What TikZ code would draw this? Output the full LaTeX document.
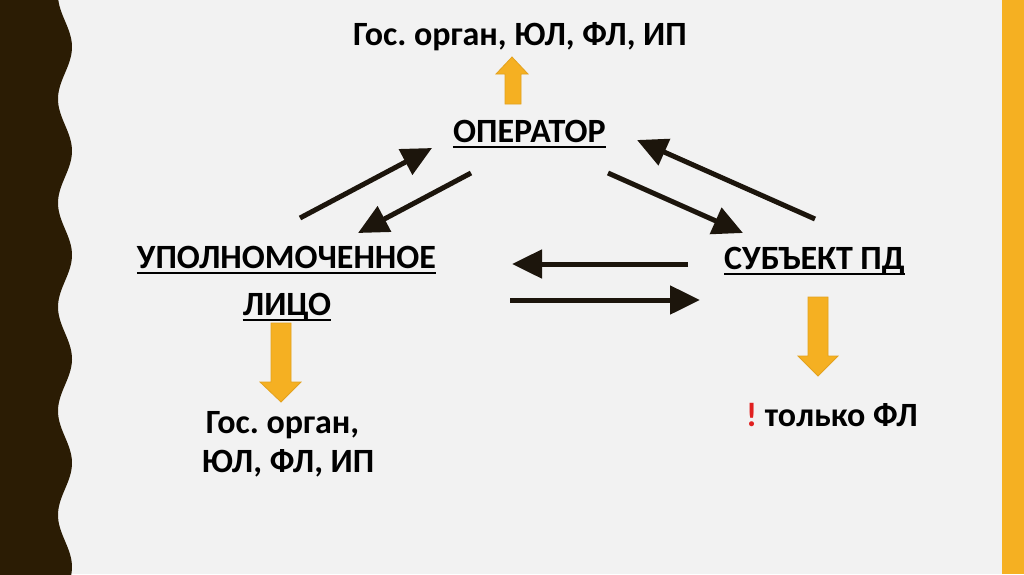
\documentclass[tikz,border=0pt]{standalone}
\usepackage{fontspec}
\setmainfont{Carlito}
\frenchspacing
\usetikzlibrary{arrows.meta}
\definecolor{bg}{HTML}{F2F2F2}
\definecolor{band}{HTML}{2B1C04}
\definecolor{gold}{HTML}{F5B022}
\definecolor{goldline}{HTML}{E3A21E}
\definecolor{ink}{HTML}{1C150C}
\definecolor{excl}{HTML}{E02020}
\tikzset{
  lbl/.style={inner sep=0pt, anchor=base, font=\fontsize{34}{40}\selectfont\bfseries, text=black},
  uline/.style={draw=black, line width=2.5pt},
  flow/.style={draw=ink, line width=5pt, -{Triangle[length=30pt,width=28pt]}},
  blockarrow/.style={fill=gold, draw=goldline, line width=0.8pt, line join=miter}
}
\begin{document}
\begin{tikzpicture}[x=1pt,y=-1pt]
\useasboundingbox (0,0) rectangle (1024,574);
\fill[bg] (0,0) rectangle (1024,574);
% right gold stripe
\fill[gold] (1002,0) rectangle (1024,574);
% wavy left band
\fill[band] (0,-5) -- plot[domain=-5:580, samples=160, variable=\t] ({65+7*sin(3.4615*(\t-21))},\t) -- (0,580) -- cycle;

% texts
\node[lbl] (top) at (520,45) {Гос. орган, ЮЛ, ФЛ, ИП};
\node[lbl] (op) at (529.5,142) {ОПЕРАТОР};
\node[lbl] (up1) at (286.5,268) {УПОЛНОМОЧЕННОЕ};
\node[lbl] (up2) at (287,315) {ЛИЦО};
\node[lbl] (subj) at (814.5,269) {СУБЪЕКТ ПД};
\node[lbl] (bl1) at (282.5,433) {Гос. орган,};
\node[lbl] (bl2) at (288,472) {ЮЛ, ФЛ, ИП};
\node[lbl, anchor=base west] (fl) at (746,426) {\textcolor{excl}{!} только ФЛ};

% underlines
\foreach \n in {op,up1,up2,subj}{
  \draw[uline] ([yshift=-5pt]\n.base west) -- ([yshift=-5pt]\n.base east);
}

% coordinates of the free connectors
\coordinate (a1s) at (300,218); \coordinate (a1e) at (432,148);
\coordinate (a2s) at (471,173); \coordinate (a2e) at (358,233);
\coordinate (a3s) at (608,173); \coordinate (a3e) at (743,233);
\coordinate (a4s) at (815,219); \coordinate (a4e) at (637,140);
\coordinate (h1s) at (688,264); \coordinate (h1e) at (512,264);
\coordinate (h2s) at (510,300); \coordinate (h2e) at (700,300);

\draw[flow] (a1s) -- (a1e);
\draw[flow] (a2s) -- (a2e);
\draw[flow] (a3s) -- (a3e);
\draw[flow] (a4s) -- (a4e);
\draw[flow] (h1s) -- (h1e);
\draw[flow] (h2s) -- (h2e);

% block arrows
\draw[blockarrow] (505,104) -- (505,74) -- (496,74) -- (512,57) -- (528,74) -- (521,74) -- (521,104) -- cycle;
\draw[blockarrow] (271,323) -- (291,323) -- (291,382) -- (301,382) -- (281,402) -- (260,382) -- (271,382) -- cycle;
\draw[blockarrow] (808,297) -- (828,297) -- (828,356) -- (838,356) -- (818,376) -- (798,356) -- (808,356) -- cycle;
\end{tikzpicture}
\end{document}
